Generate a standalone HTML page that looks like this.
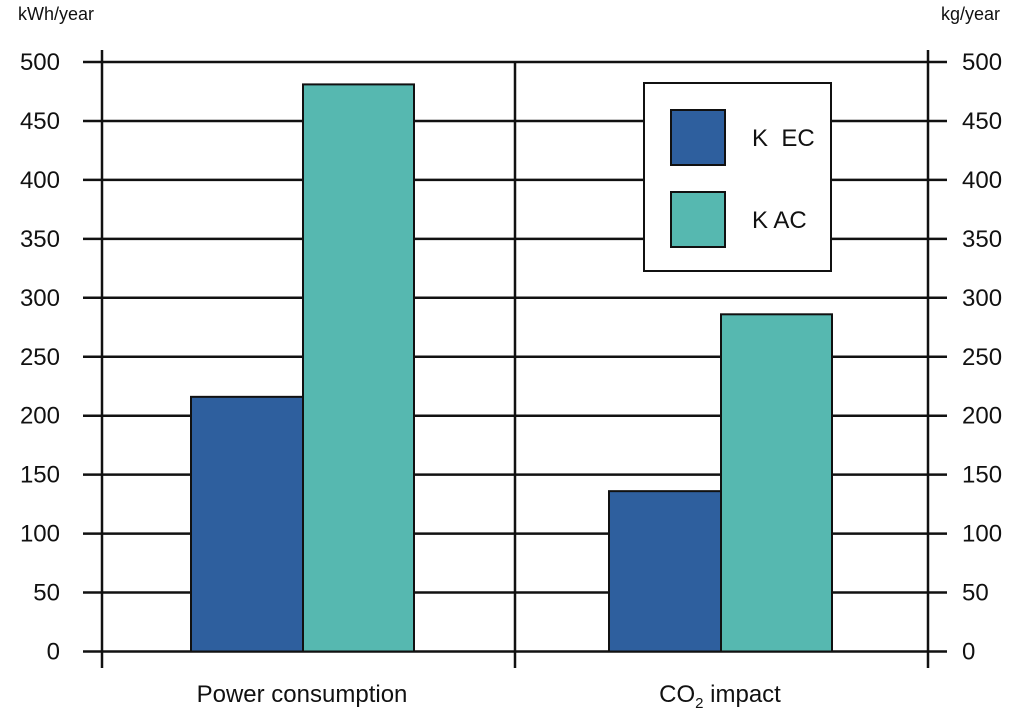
<!DOCTYPE html>
<html><head><meta charset="utf-8"><style>
body{margin:0;background:#fff}
svg text{font-family:"Liberation Sans",sans-serif;fill:#111}
</style></head><body>
<svg id="c" width="1023" height="709" xmlns="http://www.w3.org/2000/svg"></svg>
<script>
const categories=["Power consumption","CO2 impact"];
const ecValues=[216,136];
const acValues=[481,286];
const ticks=[0,50,100,150,200,250,300,350,400,450,500];
const seriesNames=["K  EC","K AC"];
const NS="http://www.w3.org/2000/svg";
const svg=document.getElementById('c');
function y(v){return 651.5-(v/500)*589.5;}
function groupX(i){return 191+i*418;}
function mk(t,a,p){const e=document.createElementNS(NS,t);for(const k in a)e.setAttribute(k,a[k]);(p||svg).appendChild(e);return e;}
ticks.forEach(t=>{
 const l=mk('line',{x1:83,x2:947,y1:y(t),y2:y(t),stroke:'#111','stroke-width':2.5});
 
 
 const a=mk('text',{x:60,y:y(t)+8,'font-size':24,'text-anchor':'end'});a.textContent=t;
 
 
 const b=mk('text',{x:962,y:y(t)+8,'font-size':24});b.textContent=t;
 
 
});
[102,515,928].forEach((x,i)=>{
 const l=mk('line',{x1:x,x2:x,y1:i==1?62:50,y2:668,stroke:'#111','stroke-width':2.5});
 
 
});
categories.forEach((c,i)=>{
 const x0=groupX(i);
 const r1=mk('rect',{x:x0,y:y(ecValues[i]),width:112,height:y(0)-y(ecValues[i]),fill:'#2e5f9e',stroke:'#111','stroke-width':2});
 
 
 const r2=mk('rect',{x:x0+112,y:y(acValues[i]),width:111,height:y(0)-y(acValues[i]),fill:'#56b8b0',stroke:'#111','stroke-width':2});
 
 
});
const l1=mk('text',{x:302,y:702,'font-size':24,'text-anchor':'middle'});l1.textContent=categories[0];


const l2=mk('text',{x:720,y:702,'font-size':24,'text-anchor':'middle'});
l2.innerHTML='CO<tspan font-size="15" dy="6">2</tspan><tspan dy="-6"> impact</tspan>';


const u1=mk('text',{x:18,y:20,'font-size':18});u1.textContent='kWh/year';


const u2=mk('text',{x:1000,y:20,'font-size':18,'text-anchor':'end'});u2.textContent='kg/year';


const lg=mk('rect',{x:644,y:83,width:187,height:188,fill:'#fff',stroke:'#111','stroke-width':2});


[['#2e5f9e',110],['#56b8b0',192]].forEach((s,i)=>{
 const r=mk('rect',{x:671,y:s[1],width:54,height:55,fill:s[0],stroke:'#111','stroke-width':2});
 
 
 const t=mk('text',{x:752,y:s[1]+36,'font-size':24});t.textContent=seriesNames[i];
 t.setAttribute('xml:space','preserve');t.style.whiteSpace='pre';
 
 
});
</script>
</body></html>
